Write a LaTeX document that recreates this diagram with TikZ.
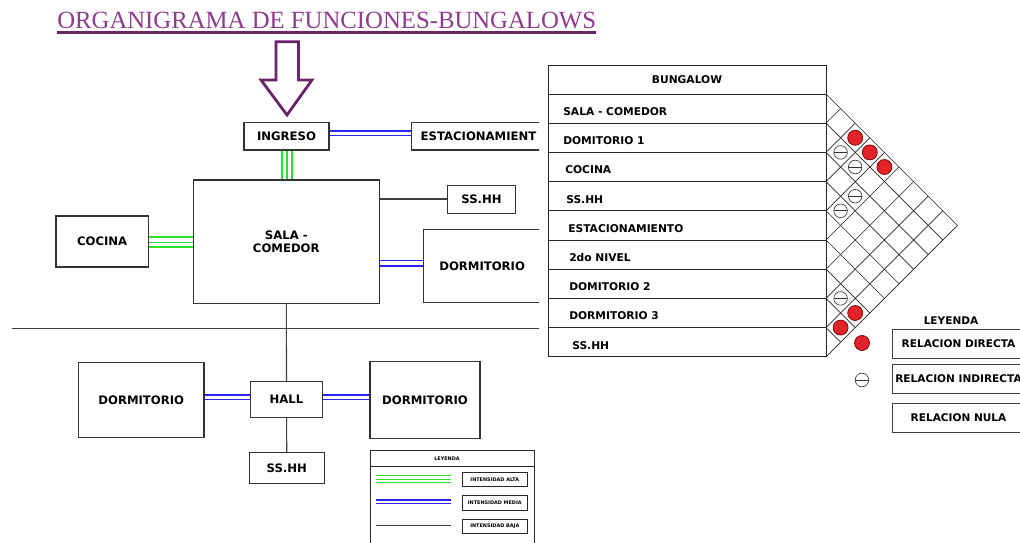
\documentclass[tikz,border=0pt]{standalone}
\usepackage{fontspec}
\setmainfont{DejaVu Sans}
\newfontfamily\titlefont{Liberation Serif}
\usetikzlibrary{positioning}

\definecolor{morado}{HTML}{8E3A8E}
\definecolor{moradoosc}{HTML}{6A2468}
\definecolor{verdel}{HTML}{2EE02E}
\definecolor{azull}{HTML}{2424F4}
\definecolor{rojoc}{HTML}{E2232A}

\begin{document}
\begin{tikzpicture}[x=0.25mm, y=-0.25mm,
  tam/.style 2 args={minimum width=#1*0.25mm, minimum height=#2*0.25mm},
  titulo/.style={anchor=base west, inner sep=0pt, text=morado, font=\titlefont\fontsize{17.6}{20}\selectfont},
  subrayado/.style={draw=moradoosc, line width=1.9pt},
  flecha/.style={draw=moradoosc, fill=white, line width=2pt, line join=miter},
  caja/.style={draw=black!80, line width=0.8pt, inner sep=0pt, align=center, font=\bfseries\fontsize{8.3}{9}\selectfont},
  alta/.style={draw=verdel, line width=0.8pt},
  media/.style={draw=azull, line width=0.9pt},
  baja/.style={draw=black!75, line width=0.8pt},
  ley/.style={draw=black!85, line width=0.7pt, inner sep=0pt, font=\bfseries\fontsize{3.5}{4}\selectfont},
  tabla/.style={draw=black!85, line width=0.7pt, inner sep=0pt, font=\bfseries\fontsize{7.6}{9}\selectfont},
  fila/.style={anchor=west, inner sep=0pt, font=\bfseries\fontsize{7.6}{9}\selectfont},
  rejilla/.style={draw=black!85, line width=0.45pt},
  rojo/.style={circle, fill=rojoc, draw=red!45!black, line width=0.5pt, minimum size=3.75mm, inner sep=0pt},
  ind/.style={circle, draw=black!80, line width=0.45pt, minimum size=3.4mm, inner sep=0pt,
    path picture={\draw[black!80, line width=0.45pt] (path picture bounding box.west) -- (path picture bounding box.east);}},
  rel/.style={draw=black!75, line width=0.6pt, inner sep=0pt, font=\bfseries\fontsize{7.5}{9}\selectfont}]

\useasboundingbox (0,0) rectangle (1020,543);

% titulo
\node[titulo] (titulo) at (57,28.3) {ORGANIGRAMA DE FUNCIONES-BUNGALOWS};
\draw[subrayado] ([yshift=-1mm]titulo.base west) -- ([yshift=-1mm]titulo.base east);

% flecha de ingreso
\draw[flecha] (276,41.7) -- (298.5,41.7) -- (298.5,80) -- (312,80) -- (287,115) -- (261,80) -- (276,80) -- cycle;

\begin{scope}
\clip (0,0) rectangle (539,543);

\node[caja, tam={85}{27.3}] (ingreso) at (286.5,136.35) {INGRESO};
\node[caja, tam={133.6}{27.3}] (estac) at (478.5,136.35) {ESTACIONAMIENT};
\node[caja, tam={186}{123.3}] (sala) at (286.3,241.65) {SALA -\\COMEDOR};
\node[caja, tam={68.4}{27.6}] (sshh) at (481.5,199.5) {SS.HH};
\node[caja, tam={92.3}{51}] (cocina) at (102.15,241.5) {COCINA};
\node[caja, tam={117.7}{73.4}] (dorm) at (482.15,266) {DORMITORIO};
\node[caja, tam={72.4}{35.6}] (hall) at (286.5,399.5) {HALL};
\node[caja, tam={125.5}{74.8}] (dormi) at (141.25,399.9) {DORMITORIO};
\node[caja, tam={110}{76.6}] (dormd) at (425,400) {DORMITORIO};
\node[caja, tam={75}{30.6}] (sshhb) at (286.8,468) {SS.HH};

\draw[baja] (12,328.5) -- (545,328.5);

\draw[media] (ingreso.east |- 0,131) -- (estac.west |- 0,131);
\draw[media] (ingreso.east |- 0,135.7) -- (estac.west |- 0,135.7);
\draw[alta] (ingreso.south -| 282,0) -- (sala.north -| 282,0);
\draw[alta] (ingreso.south -| 287,0) -- (sala.north -| 287,0);
\draw[alta] (ingreso.south -| 292,0) -- (sala.north -| 292,0);
\draw[alta] (cocina.east |- 0,237) -- (sala.west |- 0,237);
\draw[alta] (cocina.east |- 0,242.2) -- (sala.west |- 0,242.2);
\draw[alta] (cocina.east |- 0,247) -- (sala.west |- 0,247);
\draw[baja] (sala.east |- 0,199) -- (sshh.west |- 0,199);
\draw[media] (sala.east |- 0,260.8) -- (dorm.west |- 0,260.8);
\draw[media] (sala.east |- 0,266) -- (dorm.west |- 0,266);
\draw[baja] (sala) -- (hall);
\draw[media] (dormi.east |- 0,395) -- (hall.west |- 0,395);
\draw[media] (dormi.east |- 0,399.4) -- (hall.west |- 0,399.4);
\draw[media] (hall.east |- 0,395) -- (dormd.west |- 0,395);
\draw[media] (hall.east |- 0,399.4) -- (dormd.west |- 0,399.4);
\draw[baja] (hall) -- (sshhb);

% leyenda de intensidades
\draw[ley] (370,450) rectangle (534,560);
\draw[ley] (370,466) -- (534,466);
\node[inner sep=0pt, font=\bfseries\fontsize{3.5}{4}\selectfont] (leyi) at (447,459) {LEYENDA};
\node[ley, tam={65}{14}] (ialta) at (494.8,479.3) {INTENSIDAD ALTA};
\node[ley, tam={65}{14.3}] (imedia) at (494.8,502.85) {INTENSIDAD MEDIA};
\node[ley, tam={65}{14.4}] (ibaja) at (494.8,526.5) {INTENSIDAD BAJA};
\coordinate (la) at (375.7,479);
\coordinate (lm) at (375.7,501.7);
\coordinate (lb) at (375.7,525.7);
\draw[alta, line width=0.7pt] (375.7,475.3) -- (451,475.3) (la) -- (la -| 451,0) (375.7,482.7) -- (451,482.7);
\draw[media, line width=0.8pt] (375.7,500) -- (451,500) (375.7,503.4) -- (451,503.4);
\draw[baja] (lb) -- (lb -| 451,0);
\end{scope}

% matriz de relaciones
\node[tabla, tam={278}{29}] (bungalow) at (687,79.5) {BUNGALOW};
\draw[tabla] (548,94) rectangle (826,356.8);
\draw[tabla] (548,123.2) -- (826,123.2) (548,152.4) -- (826,152.4) (548,181.6) -- (826,181.6)
  (548,210.8) -- (826,210.8) (548,240) -- (826,240) (548,269.2) -- (826,269.2)
  (548,298.4) -- (826,298.4) (548,327.6) -- (826,327.6);

\node[fila] (f1) at (563,111.6) {SALA - COMEDOR};
\node[fila] (f2) at (563,140.8) {DOMITORIO 1};
\node[fila] (f3) at (565,170) {COCINA};
\node[fila] (f4) at (566,199.2) {SS.HH};
\node[fila] (f5) at (568,228.4) {ESTACIONAMIENTO};
\node[fila] (f6) at (569,258) {2do NIVEL};
\node[fila] (f7) at (569,286.8) {DOMITORIO 2};
\node[fila] (f8) at (569,316) {DORMITORIO 3};
\node[fila] (f9) at (572,345.2) {SS.HH};

\draw[rejilla] (826,94) -- (957.4,225.4) -- (826,356.8);
\draw[rejilla] (840.6,108.6) -- (826,123.2) -- (942.8,240);
\draw[rejilla] (855.2,123.2) -- (826,152.4) -- (928.2,254.6);
\draw[rejilla] (869.8,137.8) -- (826,181.6) -- (913.6,269.2);
\draw[rejilla] (884.4,152.4) -- (826,210.8) -- (899,283.8);
\draw[rejilla] (899,167) -- (826,240) -- (884.4,298.4);
\draw[rejilla] (913.6,181.6) -- (826,269.2) -- (869.8,313);
\draw[rejilla] (928.2,196.2) -- (826,298.4) -- (855.2,327.6);
\draw[rejilla] (942.8,210.8) -- (826,327.6) -- (840.6,342.2);

\node[rojo] (r1) at (855.2,137.8) {};
\node[rojo] (r2) at (869.8,152.4) {};
\node[rojo] (r3) at (884.4,167) {};
\node[rojo] (r4) at (855.2,313) {};
\node[rojo] (r5) at (840.6,327.6) {};
\node[ind] (i1) at (840.6,152.4) {};
\node[ind] (i2) at (855.2,167) {};
\node[ind] (i3) at (855.2,196.2) {};
\node[ind] (i4) at (840.6,210.8) {};
\node[ind] (i5) at (840.6,298.4) {};

% leyenda de relaciones
\node[inner sep=0pt, font=\bfseries\fontsize{7.5}{9}\selectfont] (leyr) at (951,320.5) {LEYENDA};
\node[rel, tam={133}{28.5}] (rdir) at (958.5,343.75) {RELACION DIRECTA};
\node[rel, tam={133}{28.5}] (rind) at (958.5,378.75) {RELACION INDIRECTA};
\node[rel, tam={133}{28.5}] (rnul) at (958.5,417.75) {RELACION NULA};
\node[rojo] (rs) at (862,343) {};
\node[ind] (is) at (862,380) {};

\end{tikzpicture}
\end{document}
